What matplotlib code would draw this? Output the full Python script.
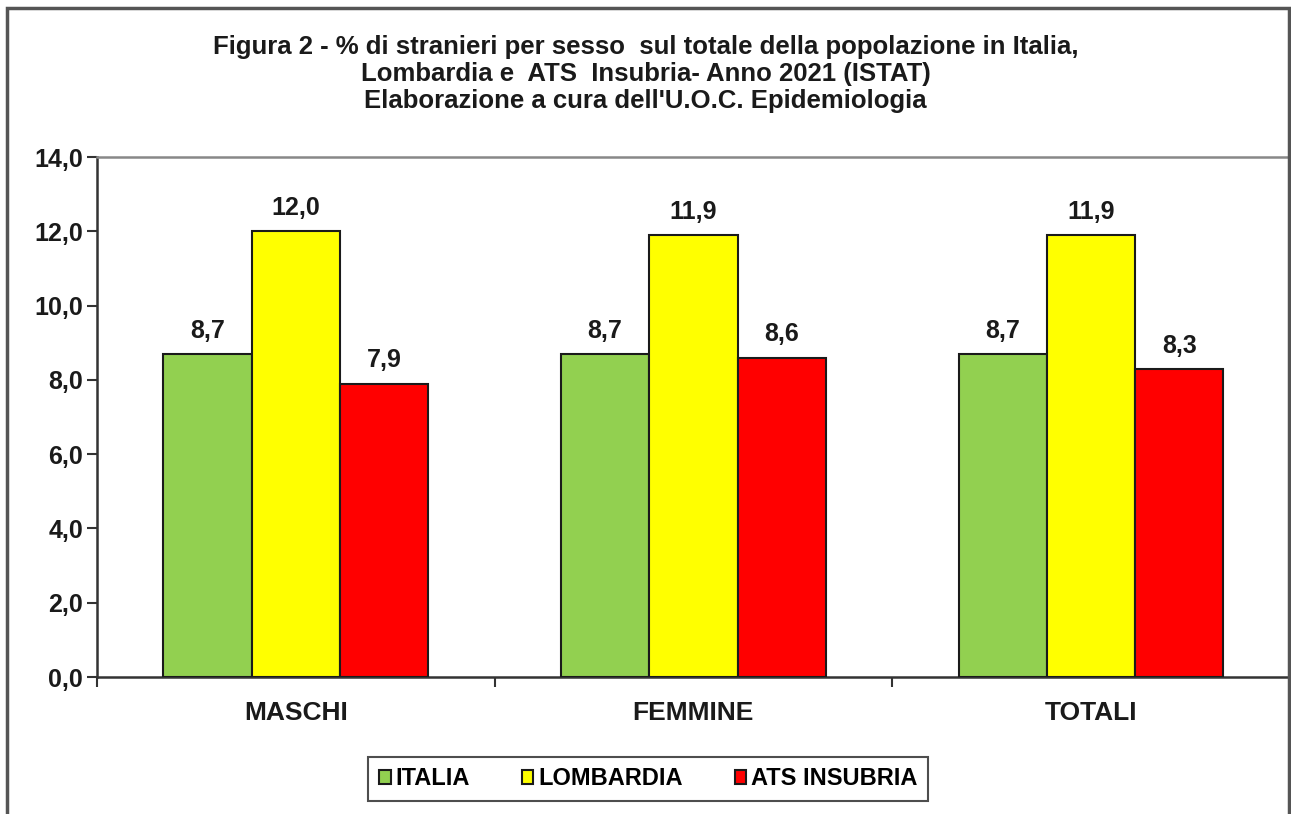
import numpy as np
import matplotlib
matplotlib.use("Agg")
import matplotlib.pyplot as plt
from matplotlib.patches import Rectangle

plt.rcParams['font.family'] = ['Liberation Sans', 'DejaVu Sans']
plt.rcParams['font.weight'] = 'bold'

# data
categories = ["MASCHI", "FEMMINE", "TOTALI"]
series_names = ["ITALIA", "LOMBARDIA", "ATS INSUBRIA"]
italia = [8.7, 8.7, 8.7]
lombardia = [12.0, 11.9, 11.9]
ats_insubria = [7.9, 8.6, 8.3]
yticks = [0, 2, 4, 6, 8, 10, 12, 14]

colors = ["#92D050", "#FFFF00", "#FF0000"]
values = [italia, lombardia, ats_insubria]

fig = plt.figure(figsize=(12.91, 8.14), dpi=100)
ax = fig.add_axes([0.0751, 0.1683, 0.924, 0.6388])

x = np.arange(len(categories))
width = 0.222
for i, (name, vals, col) in enumerate(zip(series_names, values, colors)):
    bars = ax.bar(x + (i - 1) * width, vals, width, color=col, edgecolor="#1a1a1a",
                  linewidth=1.5, label=name, zorder=3)
    for b, v in zip(bars, vals):
        ax.annotate(f"{v:.1f}".replace(".", ","), (b.get_x() + b.get_width() / 2, v),
                    xytext=(0, 8), textcoords="offset points", ha="center", va="bottom",
                    fontsize=18, fontweight="bold", color="#1a1a1a")

ax.set_xlim(-0.5, 2.5)
ax.set_ylim(0, 14)
ax.set_yticks(yticks)
ax.set_yticklabels([f"{t:.1f}".replace(".", ",") for t in yticks], fontsize=18, fontweight="bold")
ax.set_xticks(x)
ax.set_xticklabels(categories, fontsize=19, fontweight="bold")
ax.set_xticks([-0.5, 0.5, 1.5], minor=True)
ax.tick_params(axis="x", which="major", length=0, pad=17, colors="#1a1a1a")
ax.tick_params(axis="x", which="minor", length=7, width=1.5, direction="out", color="#333333")
ax.tick_params(axis="y", length=7, width=1.5, direction="out", color="#333333", pad=3, labelcolor="#1a1a1a")

for s in ["left", "bottom"]:
    ax.spines[s].set_linewidth(1.8)
    ax.spines[s].set_color("#333333")
ax.spines["right"].set_visible(False)
ax.spines["top"].set_color("#888888")
ax.spines["top"].set_linewidth(1.8)

leg = fig.legend(loc="center", bbox_to_anchor=(0.502, 0.043), ncol=3,
                 prop={"weight": "bold", "size": 17}, frameon=True, fancybox=False,
                 handlelength=0.5, handleheight=0.5, handletextpad=0.2, columnspacing=2.2,
                 borderpad=0.45, borderaxespad=0.0)
leg.get_frame().set_edgecolor("#222222")
leg.get_frame().set_linewidth(1.5)

fig.text(0.5, 0.909,
         "Figura 2 - % di stranieri per sesso  sul totale della popolazione in Italia,\n"
         "Lombardia e  ATS  Insubria- Anno 2021 (ISTAT)\n"
         "Elaborazione a cura dell'U.O.C. Epidemiologia",
         ha="center", va="center", fontsize=18.5, fontweight="bold", linespacing=1.18,
         color="#1a1a1a")

# outer frame of the picture
fig.patches.append(Rectangle((7 / 1291, -0.1), 1282 / 1291, 1.1 - 8 / 814,
                             transform=fig.transFigure, fill=False,
                             edgecolor="#555555", linewidth=2.5))

fig.savefig("out.png", dpi=100)
